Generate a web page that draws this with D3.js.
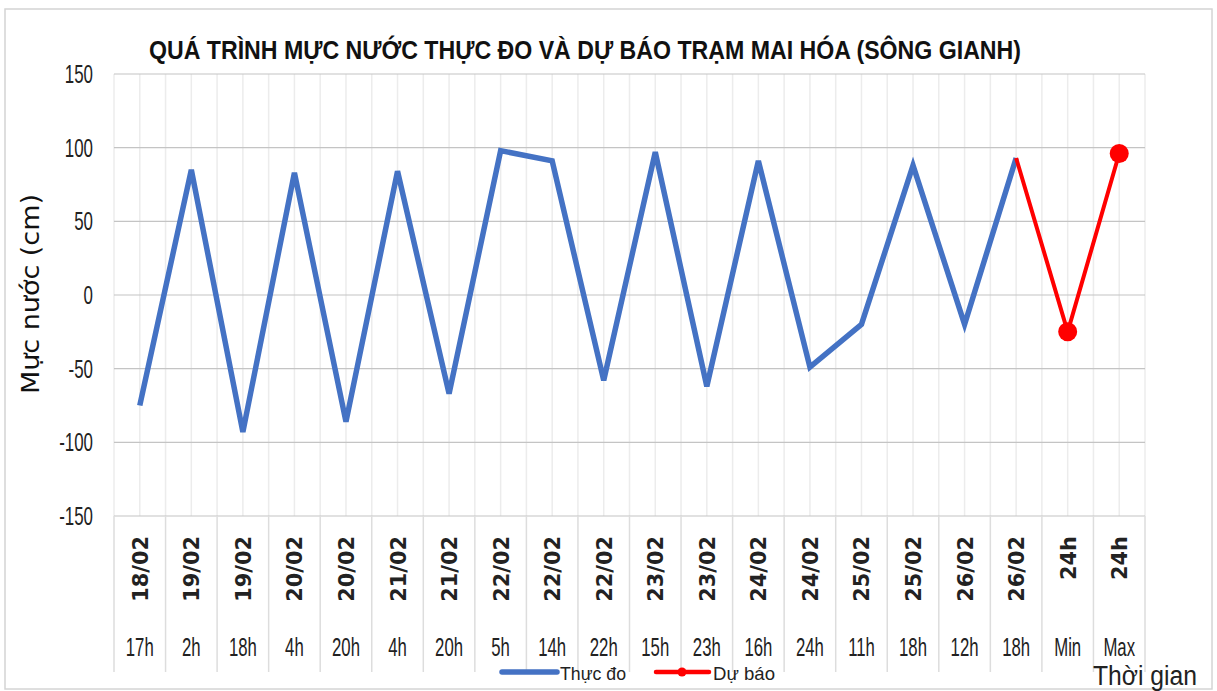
<!DOCTYPE html>
<html>
<head>
<meta charset="utf-8">
<script src="https://cdn.jsdelivr.net/npm/d3@7"></script>
<style>
  body { margin: 0; background: #fff; }
  svg { display: block; }
</style>
</head>
<body>
<script>
var width = 1217, height = 691;
var left = 114, right = 1145, top_y = 74, bottom_y = 516;

// categories: date line + hour line
var dates = ['18/02','19/02','19/02','20/02','20/02','21/02','21/02','22/02','22/02','22/02',
             '23/02','23/02','24/02','24/02','25/02','25/02','26/02','26/02','24h','24h'];
var hours = ['17h','2h','18h','4h','20h','4h','20h','5h','14h','22h',
             '15h','23h','16h','24h','11h','18h','12h','18h','Min','Max'];
// measured water level (cm)
var observed = [-75, 85, -93, 83, -86, 84, -67, 98, 91, -58, 97, -62, 91, -49, -20, 88, -20, 93];
// forecast, starting from last measured point
var forecast_idx = [17, 18, 19];
var forecast = [93, -25, 96];
var y_ticks = [-150, -100, -50, 0, 50, 100, 150];

var blue = '#4472C4', red = '#FF0000';
var sans = 'Liberation Sans, Arial, sans-serif';

var svg = d3.select('body').append('svg').attr('width', width).attr('height', height);

// chart frame
svg.append('rect').attr('x', 5).attr('y', 9).attr('width', 1207).attr('height', 680)
  .attr('fill', '#fff').attr('stroke', '#d4d4d4').attr('stroke-width', 1.5);

var idx = d3.range(dates.length);
var xScale = d3.scaleBand().domain(idx).range([left, right]).padding(0);
var yScale = d3.scaleLinear().domain([-150, 150]).range([bottom_y, top_y]);
var bw = xScale.bandwidth();

// vertical gridlines (centres + boundaries)
var g_grid = svg.append('g');
idx.forEach(function(i) {
  [xScale(i), xScale(i) + bw / 2].forEach(function(x) {
    g_grid.append('line').attr('x1', x).attr('x2', x).attr('y1', top_y).attr('y2', bottom_y)
      .attr('stroke', '#ececec').attr('stroke-width', 1.5);
  });
});
g_grid.append('line').attr('x1', right).attr('x2', right).attr('y1', top_y).attr('y2', bottom_y)
  .attr('stroke', '#ececec').attr('stroke-width', 1.5);

// horizontal gridlines
g_grid.selectAll('.hgrid').data(y_ticks).enter().append('line')
  .attr('x1', left).attr('x2', right)
  .attr('y1', d => yScale(d)).attr('y2', d => yScale(d))
  .attr('stroke', '#c4c4c4').attr('stroke-width', 1.2);

// y axis labels (text in the picture is squeezed sideways)
svg.append('g').selectAll('text').data(y_ticks).enter().append('text')
  .attr('transform', d => 'translate(93,' + (yScale(d) + 9) + ') scale(0.65,1)')
  .attr('text-anchor', 'end')
  .style('font-family', sans).style('font-size', '26px').attr('fill', '#222')
  .text(d => d);

// category separators below the axis
var g_x = svg.append('g');
idx.concat([dates.length]).forEach(function(i) {
  var x = i < dates.length ? xScale(i) : right;
  g_x.append('line').attr('x1', x).attr('x2', x).attr('y1', bottom_y).attr('y2', 672)
    .attr('stroke', '#dddddd').attr('stroke-width', 1.5);
});

// rotated date labels
g_x.selectAll('.date').data(idx).enter().append('text')
  .attr('transform', d => 'translate(' + (xScale(d) + bw / 2 + 8) + ',536) rotate(-90) scale(0.95,1)')
  .attr('text-anchor', 'end')
  .style('font-family', 'DejaVu Sans, Verdana, sans-serif')
  .style('font-size', '22px').style('font-weight', 'bold').attr('fill', '#222')
  .text(d => dates[d]);

// hour labels
g_x.selectAll('.hour').data(idx).enter().append('text')
  .attr('transform', d => 'translate(' + (xScale(d) + bw / 2) + ',656) scale(0.67,1)')
  .attr('text-anchor', 'middle')
  .style('font-family', sans).style('font-size', '25px').attr('fill', '#222')
  .text(d => hours[d]);

// lines
var line = d3.line().x(d => xScale(d[0]) + bw / 2).y(d => yScale(d[1]));
svg.append('path').datum(observed.map((v, i) => [i, v]))
  .attr('d', line).attr('fill', 'none').attr('stroke', blue)
  .attr('stroke-width', 5.5).attr('stroke-linejoin', 'miter');

var fc = forecast.map((v, i) => [forecast_idx[i], v]);
svg.append('path').datum(fc)
  .attr('d', line).attr('fill', 'none').attr('stroke', red)
  .attr('stroke-width', 4).attr('stroke-linejoin', 'miter');
svg.selectAll('.fpt').data(fc.slice(1)).enter().append('circle')
  .attr('cx', d => xScale(d[0]) + bw / 2).attr('cy', d => yScale(d[1]))
  .attr('r', 9.5).attr('fill', red);

// title
svg.append('text').attr('x', 585).attr('y', 59).attr('text-anchor', 'middle')
  .style('font-family', sans)
  .style('font-size', '25px').style('font-weight', 'bold').attr('fill', '#111')
  .attr('textLength', 872).attr('lengthAdjust', 'spacingAndGlyphs')
  .text('QUÁ TRÌNH MỰC NƯỚC THỰC ĐO VÀ DỰ BÁO TRẠM MAI HÓA (SÔNG GIANH)');

// y axis title
svg.append('text').attr('transform', 'translate(39,294) rotate(-90)')
  .attr('text-anchor', 'middle')
  .style('font-family', 'DejaVu Sans, Verdana, sans-serif')
  .style('font-size', '24px').attr('fill', '#111')
  .attr('textLength', 200).attr('lengthAdjust', 'spacingAndGlyphs')
  .text('Mực nước (cm)');

// x axis title
svg.append('text').attr('x', 1197).attr('y', 685).attr('text-anchor', 'end')
  .style('font-family', sans)
  .style('font-size', '27px').attr('fill', '#222')
  .attr('textLength', 104).attr('lengthAdjust', 'spacingAndGlyphs')
  .text('Thời gian');

// legend
var lg = svg.append('g');
lg.append('line').attr('x1', 502).attr('x2', 557).attr('y1', 672).attr('y2', 672)
  .attr('stroke', blue).attr('stroke-width', 5.5).attr('stroke-linecap', 'round');
lg.append('text').attr('x', 560).attr('y', 680)
  .style('font-family', sans).style('font-size', '19px').attr('fill', '#222')
  .attr('textLength', 66).attr('lengthAdjust', 'spacingAndGlyphs')
  .text('Thực đo');
lg.append('line').attr('x1', 656).attr('x2', 709).attr('y1', 672).attr('y2', 672)
  .attr('stroke', red).attr('stroke-width', 4.5).attr('stroke-linecap', 'round');
lg.append('circle').attr('cx', 682).attr('cy', 672).attr('r', 4.5).attr('fill', red);
lg.append('text').attr('x', 713).attr('y', 680)
  .style('font-family', sans).style('font-size', '19px').attr('fill', '#222')
  .attr('textLength', 62).attr('lengthAdjust', 'spacingAndGlyphs')
  .text('Dự báo');
</script>
</body>
</html>
